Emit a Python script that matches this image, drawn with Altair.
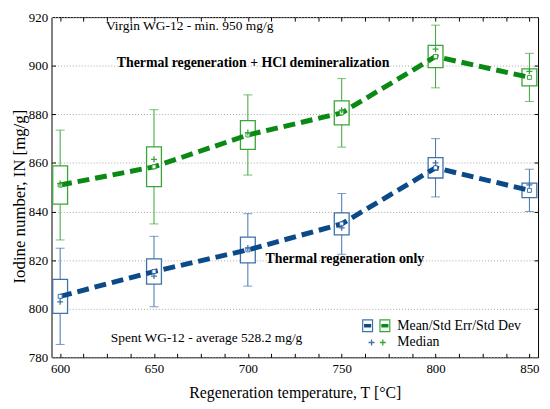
import altair as alt
import pandas as pd

# ---- data ----
temps = [600, 650, 700, 750, 800, 850]

hcl_mean = [850.9, 858.4, 871.5, 880.6, 903.8, 895.2]
hcl_se = [7.9, 8.2, 5.9, 4.9, 4.6, 3.5]
hcl_sd = [22.6, 23.5, 16.5, 14.1, 12.9, 9.9]
hcl_median = [851.5, 861.5, 872.5, 881.7, 906.8, 897.7]

th_mean = [805.1, 815.3, 824.2, 834.9, 858.0, 848.7]
th_se = [7.0, 5.2, 5.3, 4.5, 4.2, 3.0]
th_sd = [19.8, 14.5, 14.9, 12.5, 12.0, 8.7]
th_median = [802.8, 813.4, 825.0, 833.3, 860.0, 851.0]

series_names = ["Thermal regeneration only", "Thermal regeneration + HCl demineralization"]

x_labels = [600, 650, 700, 750, 800, 850]
x_minor = [600, 612.5, 625, 637.5, 650, 662.5, 675, 687.5, 700, 712.5, 725, 737.5,
           750, 762.5, 775, 787.5, 800, 812.5, 825, 837.5, 850]
y_labels = [780, 800, 820, 840, 860, 880, 900, 920]
y_minor = [800, 820, 840, 860, 880, 900]

notes_text = ["Virgin WG-12 - min. 950 mg/g", "Spent WG-12 - average 528.2 mg/g"]
notes_x = [669.0, 678.0]
notes_y = [916.3, 788.1]
bold_text = ["Thermal regeneration + HCl demineralization", "Thermal regeneration only"]
bold_x = [702.8, 751.7]
bold_y = [901.3, 820.3]

legend_text = ["Mean/Std Err/Std Dev", "Median"]
legend_text_x = [779.6, 779.6]
legend_text_y = [793.0, 786.1]
legend_icon_x = [763.8, 773.0]
legend_icon_y = [793.0, 793.0]
legend_plus_x = [765.9, 771.9]
legend_plus_y = [786.1, 786.1]

# ---- tables ----
rows = []
for name, means, ses, sds, meds in [
    (series_names[0], th_mean, th_se, th_sd, th_median),
    (series_names[1], hcl_mean, hcl_se, hcl_sd, hcl_median),
]:
    for t, m, se, sd, md in zip(temps, means, ses, sds, meds):
        rows.append(dict(series=name, T=t, mean=m, se_lo=m - se, se_hi=m + se,
                         sd_lo=m - sd, sd_hi=m + sd, median=md))
df = pd.DataFrame(rows)
caps = pd.concat([df.assign(cap=df.sd_lo), df.assign(cap=df.sd_hi)], ignore_index=True)

notes = pd.DataFrame(dict(text=notes_text, x=notes_x, y=notes_y))
bolds = pd.DataFrame(dict(text=bold_text, x=bold_x, y=bold_y))
leg_txt = pd.DataFrame(dict(text=legend_text, x=legend_text_x, y=legend_text_y))
leg_icon = pd.DataFrame(dict(series=series_names, x=legend_icon_x, y=legend_icon_y))
leg_plus = pd.DataFrame(dict(series=series_names, x=legend_plus_x, y=legend_plus_y))

W, H = 492, 344
FONT = "Liberation Serif"
xs = alt.Scale(domain=[595.4, 854.6], nice=False, zero=False, padding=0)
ys = alt.Scale(domain=[780, 920], nice=False, zero=False, padding=0)
box_col = alt.Scale(domain=series_names, range=["#3f72a8", "#38a538"])
line_col = alt.Scale(domain=series_names, range=["#0b4a88", "#0a8a14"])

ax_x_main = alt.Axis(orient="bottom", values=x_labels, ticks=False, domain=False, grid=False,
                     labelFont=FONT, labelFontSize=13, labelColor="black", labelPadding=5,
                     title="Regeneration temperature, T [°C]", titleFont=FONT, titleFontSize=16,
                     titleFontWeight="normal", titleColor="black", titlePadding=10)
ax_x_bot_ticks = alt.Axis(orient="top", offset=-H, values=x_minor, labels=False, domain=False,
                          grid=False, ticks=True, tickSize=4, tickColor="black", title=None)
ax_x_top_ticks = alt.Axis(orient="bottom", offset=-H, values=x_minor, labels=False, domain=False,
                          grid=False, ticks=True, tickSize=4, tickColor="black", title=None)
ax_y_main = alt.Axis(orient="left", values=y_labels, ticks=False, domain=False, grid=True,
                     gridDash=[1, 2], gridColor="#a8a8a8", gridWidth=1,
                     labelFont=FONT, labelFontSize=13, labelColor="black", labelPadding=4,
                     title="Iodine number, IN [mg/g]", titleFont=FONT, titleFontSize=17,
                     titleFontWeight="normal", titleColor="black", titlePadding=0, titleY=181)
ax_y_left_ticks = alt.Axis(orient="right", offset=-W, values=y_minor, labels=False, domain=False,
                           grid=False, ticks=True, tickSize=4, tickColor="black", title=None)
ax_y_right_ticks = alt.Axis(orient="left", offset=-W, values=y_minor, labels=False, domain=False,
                            grid=False, ticks=True, tickSize=4, tickColor="black", title=None)

whisk = alt.Chart(df).mark_rule(strokeWidth=1).encode(
    x=alt.X("T:Q", scale=xs, axis=ax_x_main),
    y=alt.Y("sd_lo:Q", scale=ys, axis=ax_y_main),
    y2="sd_hi:Q",
    color=alt.Color("series:N", scale=box_col, legend=None),
)

cap = alt.Chart(caps).mark_tick(orient="horizontal", size=9, thickness=1).encode(
    x=alt.X("T:Q", scale=xs, axis=ax_x_bot_ticks),
    y=alt.Y("cap:Q", scale=ys, axis=ax_y_left_ticks),
    color=alt.Color("series:N", scale=box_col, legend=None),
)

boxes = alt.Chart(df).mark_bar(orient="vertical", size=15, fill="white", strokeWidth=1.3).encode(
    x=alt.X("T:Q", scale=xs, axis=ax_x_top_ticks),
    y=alt.Y("se_lo:Q", scale=ys, axis=ax_y_right_ticks),
    y2="se_hi:Q",
    stroke=alt.Stroke("series:N", scale=box_col, legend=None),
)

line = alt.Chart(df).mark_line(strokeWidth=5, strokeDash=[12, 6]).encode(
    x=alt.X("T:Q", scale=xs, axis=None),
    y=alt.Y("mean:Q", scale=ys, axis=None),
    color=alt.Color("series:N", scale=line_col, legend=None),
)

means = alt.Chart(df).mark_point(shape="square", size=16, fill="white", strokeWidth=1, opacity=1).encode(
    x=alt.X("T:Q", scale=xs, axis=None),
    y=alt.Y("mean:Q", scale=ys, axis=None),
    stroke=alt.Stroke("series:N", scale=box_col, legend=None),
)

medians = alt.Chart(df).mark_point(shape="M-1,0H1M0,-1V1", size=36, strokeWidth=1.3,
                                   filled=False, opacity=1).encode(
    x=alt.X("T:Q", scale=xs, axis=None),
    y=alt.Y("median:Q", scale=ys, axis=None),
    stroke=alt.Stroke("series:N", scale=box_col, legend=None),
)

note_l = alt.Chart(notes).mark_text(font=FONT, fontSize=13.6, color="black", align="center",
                                     baseline="middle").encode(
    x=alt.X("x:Q", scale=xs, axis=None), y=alt.Y("y:Q", scale=ys, axis=None), text="text:N")
bold_l = alt.Chart(bolds).mark_text(font=FONT, fontSize=14, fontWeight="bold", color="black",
                                     align="center", baseline="middle").encode(
    x=alt.X("x:Q", scale=xs, axis=None), y=alt.Y("y:Q", scale=ys, axis=None), text="text:N")
leg_t = alt.Chart(leg_txt).mark_text(font=FONT, fontSize=14, color="black", align="left",
                                      baseline="middle").encode(
    x=alt.X("x:Q", scale=xs, axis=None), y=alt.Y("y:Q", scale=ys, axis=None), text="text:N")
leg_box = alt.Chart(leg_icon).mark_point(shape="M-0.83,-1H0.83V1H-0.83Z", size=144, fill="white",
                                         strokeWidth=1.2, opacity=1).encode(
    x=alt.X("x:Q", scale=xs, axis=None), y=alt.Y("y:Q", scale=ys, axis=None),
    stroke=alt.Stroke("series:N", scale=box_col, legend=None))
leg_bar = alt.Chart(leg_icon).mark_point(shape="M-0.6,-0.3H0.6V0.3H-0.6Z", size=144, filled=True,
                                         opacity=1, strokeWidth=0).encode(
    x=alt.X("x:Q", scale=xs, axis=None), y=alt.Y("y:Q", scale=ys, axis=None),
    fill=alt.Fill("series:N", scale=line_col, legend=None))
leg_plus_l = alt.Chart(leg_plus).mark_point(shape="M-1,0H1M0,-1V1", size=36, strokeWidth=1.3,
                                            filled=False, opacity=1).encode(
    x=alt.X("x:Q", scale=xs, axis=None), y=alt.Y("y:Q", scale=ys, axis=None),
    stroke=alt.Stroke("series:N", scale=box_col, legend=None))

chart = alt.layer(
    whisk, cap, boxes, line, means, medians, note_l, bold_l, leg_t, leg_box, leg_bar, leg_plus_l
).resolve_scale(
    color="independent", fill="independent"
).resolve_axis(
    x="independent", y="independent"
).properties(
    width=W, height=H,
    autosize=alt.AutoSizeParams(type="none"),
    padding={"left": 44, "top": 7, "right": 4, "bottom": 46},
    background="white",
).configure_view(stroke="black", strokeWidth=1)

chart.save("out.html", embed_options={"renderer": "svg", "actions": False})
